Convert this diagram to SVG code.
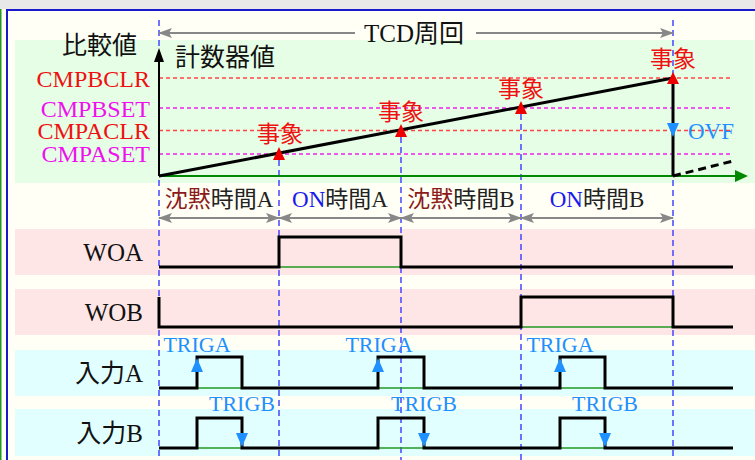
<svg xmlns="http://www.w3.org/2000/svg" width="755" height="460" viewBox="0 0 755 460">
<style>
text{font-family:"Liberation Serif","Noto Sans CJK JP",serif;}
.lbl{font-size:25px;fill:#111;}
.cmp{font-size:24px;text-anchor:end;}
.red{fill:#ee1111;}
.mag{fill:#ee11ee;}
.ev{font-size:23px;fill:#ee1111;text-anchor:middle;}
.iv{font-size:23px;fill:#222;text-anchor:middle;}
.silent{fill:#8b1a1a;}
.on{fill:#1a1aee;}
.trig{font-size:22px;fill:#1e90ff;text-anchor:middle;}
.sig{fill:none;stroke:#000;stroke-width:3;stroke-linejoin:miter;}
.gb{stroke:#229922;stroke-width:1.5;fill:none;}
.vd{stroke:#4444ff;stroke-width:1.5;stroke-dasharray:6,4;fill:none;}
.rd{stroke:#ff4444;stroke-width:1.5;stroke-dasharray:4,3;fill:none;}
.md{stroke:#ee22ee;stroke-width:1.5;stroke-dasharray:4,3;fill:none;}
.ga{stroke:#888;stroke-width:2;fill:none;marker-start:url(#gah);marker-end:url(#gah);}
.gae{stroke:#888;stroke-width:2;fill:none;marker-end:url(#gah);}
.evt{fill:#ee0000;}
.blu{fill:#1e90ff;}
</style>
<defs>
<marker id="gah" viewBox="0 0 14 10" refX="13" refY="5" markerWidth="14" markerHeight="10" markerUnits="userSpaceOnUse" orient="auto-start-reverse">
<path d="M0,0 L14,5 L0,10 L3,5 Z" fill="#888"/>
</marker>
</defs>
<g id="background">
<rect x="0" y="0" width="755" height="460" fill="#fffff5"/>
<rect x="0" y="0" width="755" height="9" fill="#e8e8e8"/>
<line x1="0.75" y1="9" x2="0.75" y2="460" stroke="#229922" stroke-width="1.5"/>
<line x1="7" y1="10" x2="7" y2="460" stroke="#1a1acc" stroke-width="2"/>
<line x1="6" y1="10" x2="755" y2="10" stroke="#1a1acc" stroke-width="2"/>
<rect x="15" y="40" width="740" height="143" fill="#e6fde6"/>
<rect x="15" y="229" width="740" height="46" fill="#ffe6e6"/>
<rect x="15" y="289" width="740" height="46" fill="#ffe6e6"/>
<rect x="15" y="350" width="740" height="46" fill="#e2ffff"/>
<rect x="15" y="409" width="740" height="47" fill="#e2ffff"/>
</g>
<g id="grid">
<line class="rd" x1="159" y1="78" x2="733" y2="78"/>
<line class="md" x1="159" y1="108" x2="733" y2="108"/>
<line class="rd" x1="159" y1="130.5" x2="733" y2="130.5"/>
<line class="md" x1="159" y1="154" x2="733" y2="154"/>
<line class="vd" x1="159" y1="20" x2="159" y2="460"/>
<line class="vd" x1="673" y1="20" x2="673" y2="460"/>
<line class="vd" x1="279" y1="160" x2="279" y2="460"/>
<line class="vd" x1="401" y1="137" x2="401" y2="460"/>
<line class="vd" x1="521" y1="114" x2="521" y2="460"/>
</g>
<g id="labels">
<text class="lbl" x="137" y="54" text-anchor="end">比較値</text>
<text class="lbl" x="175" y="66">計数器値</text>
<text class="cmp red" x="150" y="86.5">CMPBCLR</text>
<text class="cmp mag" x="150" y="116.5">CMPBSET</text>
<text class="cmp red" x="150" y="139">CMPACLR</text>
<text class="cmp mag" x="150" y="162">CMPASET</text>
<text class="lbl" x="143" y="261" text-anchor="end">WOA</text>
<text class="lbl" x="143" y="321" text-anchor="end">WOB</text>
<text class="lbl" x="143" y="382" text-anchor="end">入力A</text>
<text class="lbl" x="143" y="442" text-anchor="end">入力B</text>
</g>
<g id="tcd-cycle">
<line class="gae" x1="355" y1="33" x2="159" y2="33"/>
<line class="gae" x1="476" y1="33" x2="673" y2="33"/>
<text class="lbl" x="414" y="42" text-anchor="middle">TCD周回</text>
</g>
<g id="intervals">
<line class="ga" x1="159" y1="218" x2="279" y2="218"/>
<line class="ga" x1="279" y1="218" x2="401" y2="218"/>
<line class="ga" x1="401" y1="218" x2="521" y2="218"/>
<line class="ga" x1="521" y1="218" x2="673" y2="218"/>
<text class="iv" x="219" y="207"><tspan class="silent">沈黙</tspan>時間A</text>
<text class="iv" x="340" y="207"><tspan class="on">ON</tspan>時間A</text>
<text class="iv" x="461" y="207"><tspan class="silent">沈黙</tspan>時間B</text>
<text class="iv" x="597" y="207"><tspan class="on">ON</tspan>時間B</text>
</g>
<g id="counter">
<line x1="159" y1="176" x2="736" y2="176" stroke="#008800" stroke-width="2"/>
<polygon points="748,176 735,170 735,182" fill="#008800"/>
<line x1="159" y1="176" x2="159" y2="61" stroke="#000" stroke-width="2"/>
<polygon points="159,48 154,62 164,62" fill="#000"/>
<polyline class="sig" points="159,176 673,78"/>
<line x1="673" y1="80" x2="673" y2="176" stroke="#000" stroke-width="3"/>
<line x1="673" y1="176" x2="733" y2="161" stroke="#000" stroke-width="3" stroke-dasharray="8,5"/>
<polygon class="blu" points="673,137 667,123 679,123"/>
<text x="688" y="139" font-size="23" fill="#1e90ff">OVF</text>
</g>
<g id="events">
<polygon class="evt" points="279,147 273,160 285,160"/>
<polygon class="evt" points="401,124 395,137 407,137"/>
<polygon class="evt" points="521,101 515,114 527,114"/>
<polygon class="evt" points="673,72 667,84 679,84"/>
<text class="ev" x="280" y="142">事象</text>
<text class="ev" x="401" y="120">事象</text>
<text class="ev" x="521" y="97">事象</text>
<text class="ev" x="673" y="67">事象</text>
</g>
<g id="woa">
<line class="gb" x1="279" y1="267" x2="401" y2="267"/>
<polyline class="sig" points="159,267 279,267 279,237 401,237 401,267 733,267"/>
</g>
<g id="wob">
<line class="gb" x1="521" y1="327" x2="673" y2="327"/>
<polyline class="sig" points="159,297 159,327 521,327 521,297 673,297 673,327 733,327"/>
</g>
<g id="input-a">
<line class="gb" x1="197" y1="388" x2="242" y2="388"/>
<line class="gb" x1="378" y1="388" x2="424" y2="388"/>
<line class="gb" x1="560" y1="388" x2="605" y2="388"/>
<polyline class="sig" points="159,388 197,388 197,357 242,357 242,388 378,388 378,357 424,357 424,388 560,388 560,357 605,357 605,388 733,388"/>
<polygon class="blu" points="197,358 191,372 203,372"/>
<polygon class="blu" points="378,358 372,372 384,372"/>
<polygon class="blu" points="560,358 554,372 566,372"/>
<text class="trig" x="197" y="352">TRIGA</text>
<text class="trig" x="379" y="352">TRIGA</text>
<text class="trig" x="560" y="352">TRIGA</text>
</g>
<g id="input-b">
<line class="gb" x1="197" y1="448" x2="242" y2="448"/>
<line class="gb" x1="378" y1="448" x2="424" y2="448"/>
<line class="gb" x1="560" y1="448" x2="605" y2="448"/>
<polyline class="sig" points="159,448 197,448 197,418 242,418 242,448 378,448 378,418 424,418 424,448 560,448 560,418 605,418 605,448 733,448"/>
<polygon class="blu" points="242,447 236,433 248,433"/>
<polygon class="blu" points="424,447 418,433 430,433"/>
<polygon class="blu" points="605,447 599,433 611,433"/>
<text class="trig" x="242" y="411">TRIGB</text>
<text class="trig" x="424" y="411">TRIGB</text>
<text class="trig" x="605" y="411">TRIGB</text>
</g>
</svg>
